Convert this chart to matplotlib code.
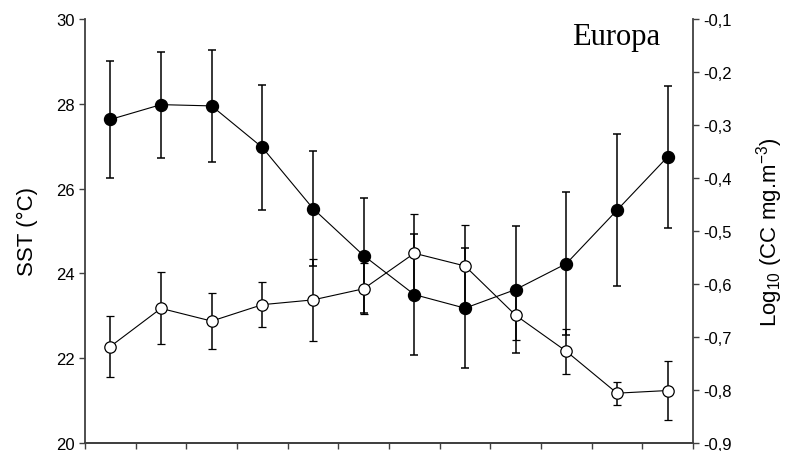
import numpy as np
import matplotlib
matplotlib.use("Agg")
import matplotlib.pyplot as plt
from matplotlib.ticker import FuncFormatter

plt.rcParams['font.family'] = ['Liberation Sans', 'DejaVu Sans']
plt.rcParams['mathtext.default'] = 'regular'

# monthly means (Jan..Dec)
months = np.arange(1, 13)
sst = [27.63, 27.98, 27.95, 26.97, 25.53, 24.42, 23.50, 23.18, 23.62, 24.23, 25.49, 26.75]
sst_err = [1.38, 1.25, 1.33, 1.48, 1.36, 1.36, 1.42, 1.41, 1.49, 1.69, 1.79, 1.67]
logcc = [-0.718, -0.646, -0.670, -0.639, -0.630, -0.609, -0.542, -0.566, -0.659, -0.727, -0.806, -0.801]
logcc_err = [0.057, 0.068, 0.053, 0.043, 0.077, 0.048, 0.074, 0.078, 0.046, 0.043, 0.022, 0.056]

spine_col = '#404040'

fig = plt.figure(figsize=(7.92, 4.52), dpi=100)
ax = fig.add_axes([0.1073, 0.0177, 0.875 - 0.1073, 0.9558 - 0.0177])
ax2 = ax.twinx()

x = months - 0.5
ax.errorbar(x, sst, yerr=sst_err, fmt='-o', color='black', lw=0.8,
            ms=8.6, mfc='black', mec='black', ecolor='black', elinewidth=1.1,
            capsize=2.9, capthick=1.1, zorder=3)
ax2.errorbar(x, logcc, yerr=logcc_err, fmt='-o', color='black', lw=0.8,
             ms=8.2, mfc='white', mec='black', mew=0.9, ecolor='black',
             elinewidth=1.1, capsize=2.9, capthick=1.1, zorder=3)

ax.set_xlim(0, 12)
ax.set_ylim(20, 30)
ax2.set_ylim(-0.9, -0.1)
ax.set_xticks(np.arange(0, 13))
ax.set_xticklabels([])
ax.set_yticks(np.arange(20, 31, 2))
ax2.set_yticks(np.arange(-0.9, -0.05, 0.1))
ax2.yaxis.set_major_formatter(FuncFormatter(lambda v, p: f'{v:.1f}'.replace('.', ',')))

for a in (ax, ax2):
    a.spines['top'].set_visible(False)
    for s in ('left', 'right', 'bottom'):
        a.spines[s].set_color(spine_col)
        a.spines[s].set_linewidth(1.3)
    a.tick_params(direction='out', length=4.5, width=1.0, color=spine_col,
                  labelsize=12, pad=3)
ax2.spines['left'].set_visible(False)
ax.spines['right'].set_visible(False)

ax.set_ylabel('SST (°C)', fontsize=16, labelpad=13)
ax2.set_ylabel(r'Log$_{10}$ (CC mg.m$^{-3}$)', fontsize=16, labelpad=16)

ax2.text(0.874, 0.993, 'Europa', transform=ax.transAxes, ha='center', va='top',
         fontsize=22, family='Liberation Serif')

fig.savefig('out.png', dpi=100)
